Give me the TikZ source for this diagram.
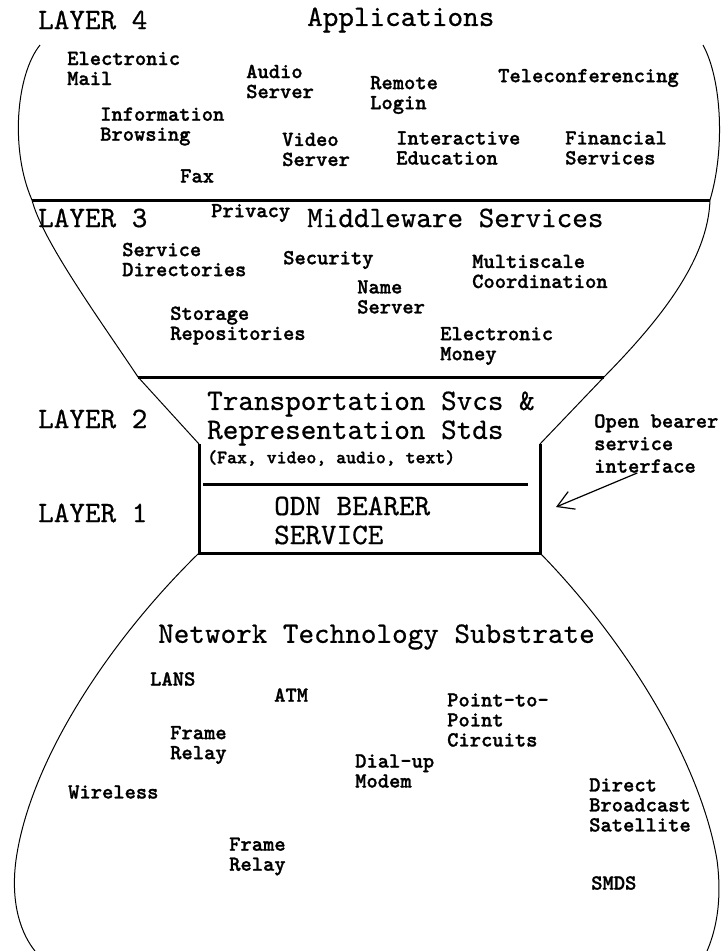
\documentclass[tikz,border=0pt]{standalone}
\usepackage{fontspec}
\newfontfamily\heavymono{lmmonolt10-bold.otf}[FakeBold=1.2]
\newfontfamily\titlemono{lmmono10-regular.otf}[FakeBold=0.6]
\usepackage{tikz}
\usetikzlibrary{arrows.meta}
\newcommand{\titletype}{\fontsize{29.7}{29}\selectfont\titlemono}
\newcommand{\itemtype}{\fontsize{21.5}{20}\selectfont\heavymono}
\newcommand{\remarktype}{\fontsize{21.5}{22.5}\selectfont\heavymono}
\newcommand{\notetype}{\fontsize{18.9}{18}\selectfont\heavymono}

\begin{document}
\begin{tikzpicture}[
    x=1pt, y=-1pt,
    layer title/.style={
        font=\titletype,
        anchor=west,
        inner sep=0pt,
        align=left
    },
    service item/.style={
        font=\itemtype,
        anchor=west,
        inner sep=0pt,
        align=left
    },
    small note/.style={
        font=\notetype,
        anchor=west,
        inner sep=0pt
    },
    hourglass edge/.style={line width=1pt},
    layer rule/.style={line width=3pt}
]

\useasboundingbox (0,0) rectangle (721,951);

% Outline points
\coordinate (l4tl) at (40,45);
\coordinate (l4tr) at (703,45);
\coordinate (l3tl) at (32,200);
\coordinate (l3tr) at (710,200);
\coordinate (l2tl) at (138,377);
\coordinate (l2tr) at (604,377);
\coordinate (l1tl) at (199,444);
\coordinate (l1tr) at (540,444);
\coordinate (l1bl) at (199,553);
\coordinate (l1br) at (540,553);
\coordinate (l0bl) at (35,951);
\coordinate (l0br) at (707,951);

% === LAYER 4 ===
\draw[hourglass edge] (l4tl) .. controls (16,75) and (10,150) .. (l3tl);
\draw[hourglass edge] (l4tr) .. controls (722,80) and (725,150) .. (l3tr);
\draw[layer rule] (l3tl) -- (l3tr);

\node[layer title] (l4label) at (38,20) {LAYER 4};
\node[layer title] (apptitle) at (307,20) {Applications};
\node[service item] (email) at (67,68.5) {Electronic\\Mail};
\node[service item] (audio) at (246,81.5) {Audio\\Server};
\node[service item] (rlogin) at (370,95) {Remote\\Login};
\node[service item] (teleconf) at (498,78) {Teleconferencing};
\node[service item] (browse) at (100,126.5) {Information\\Browsing};
\node[service item] (video) at (282,149.5) {Video\\Server};
\node[service item] (edu) at (396,148) {Interactive\\Education};
\node[service item] (finance) at (565,148) {Financial\\Services};
\node[service item] (fax) at (180,176) {Fax};

% === LAYER 3 ===
\draw[hourglass edge] (l3tl) .. controls (42,240) and (100,320) .. (l2tl);
\draw[hourglass edge] (l3tr) .. controls (708,260) and (660,320) .. (l2tr);
\draw[layer rule] (l2tl) -- (l2tr);

\node[layer title] (l3label) at (38,218) {LAYER 3};
\node[service item] (privacy) at (211,213) {Privacy};
\node[layer title] (midtitle) at (307,218) {Middleware Services};
\node[service item] (svcdir) at (122,259.5) {Service\\Directories};
\node[service item] (security) at (283,260) {Security};
\node[service item] (namesrv) at (357,297) {Name\\Server};
\node[service item] (multiscale) at (472,271.5) {Multiscale\\Coordination};
\node[service item] (storage) at (170,325.5) {Storage\\Repositories};
\node[service item] (emoney) at (440,346) {Electronic\\Money};

% === LAYERS 2 AND 1 ===
\draw[hourglass edge] (l2tl) -- (l1tl);
\draw[hourglass edge] (l2tr) -- (l1tr);
\draw[layer rule] (l1tl) -- (l1bl) -- (l1br) -- (l1tr);
\draw[layer rule] (203,484) -- (528,484);

\node[layer title] (l2label) at (38,419) {LAYER 2};
\node[layer title] (transport) at (207,418.5) {Transportation Svcs \&\\Representation Stds};
\node[small note] (formats) at (207,458) {(Fax, video, audio, text)};
\node[layer title] (l1label) at (38,513) {LAYER 1};
\node[layer title] (bearer) at (274,520.5) {ODN BEARER\\SERVICE};

\node[service item, font=\remarktype] (openlbl) at (594,443.5) {Open bearer\\service\\interface};
\coordinate (iface) at (556,507);
\draw[line width=1.2pt, -{Straight Barb[length=16pt,width=19pt]}] ([xshift=-19pt]openlbl.south) -- (iface);

% === NETWORK SUBSTRATE ===
\draw[hourglass edge] (l1bl) .. controls (110,640) and (30,760) .. (16,860)
    .. controls (10,905) and (22,935) .. (l0bl);
\draw[hourglass edge] (l1br) .. controls (625,640) and (700,760) .. (717,860)
    .. controls (723,905) and (714,935) .. (l0br);

\node[layer title] (nettitle) at (158,637) {Network Technology Substrate};
\node[service item] (lans) at (150,679) {LANS};
\node[service item] (atm) at (274,695) {ATM};
\node[service item] (frame1) at (170,745) {Frame\\Relay};
\node[service item] (p2p) at (447,720) {Point-to-\\Point\\Circuits};
\node[service item] (dialup) at (355,771) {Dial-up\\Modem};
\node[service item] (wireless) at (68,792) {Wireless};
\node[service item] (dbs) at (589,805) {Direct\\Broadcast\\Satellite};
\node[service item] (frame2) at (229,856.5) {Frame\\Relay};
\node[service item] (smds) at (591,883) {SMDS};

\end{tikzpicture}
\end{document}
